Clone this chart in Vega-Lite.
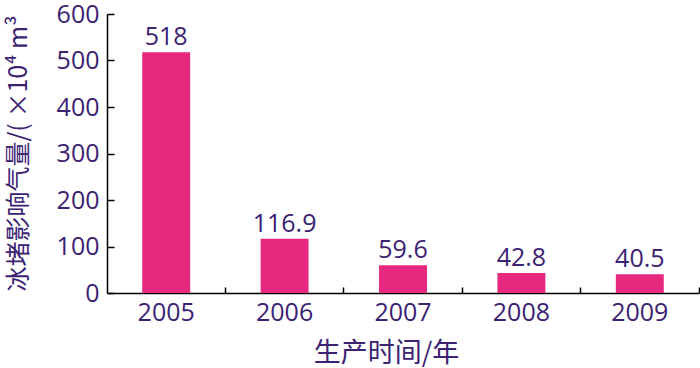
{
  "$schema": "https://vega.github.io/schema/vega-lite/v6.json",
  "width": 592,
  "height": 279,
  "autosize": "none",
  "padding": {"left": 107, "top": 14, "right": 1, "bottom": 75},
  "background": "white",
  "config": {
    "view": {"stroke": null},
    "font": "Open Sans, Noto Sans CJK SC",
    "axis": {
      "domainColor": "#000000",
      "domainWidth": 1.5,
      "tickColor": "#000000",
      "tickWidth": 1.5,
      "labelColor": "#3b2272",
      "titleColor": "#3b2272",
      "labelFont": "Open Sans",
      "labelFontSize": 25,
      "grid": false
    }
  },
  "data": {
    "values": [
      {"year": "2005", "value": 518, "label": "518"},
      {"year": "2006", "value": 116.9, "label": "116.9"},
      {"year": "2007", "value": 59.6, "label": "59.6"},
      {"year": "2008", "value": 42.8, "label": "42.8"},
      {"year": "2009", "value": 40.5, "label": "40.5"}
    ]
  },
  "encoding": {
    "x": {
      "field": "year",
      "type": "nominal",
      "sort": null,
      "scale": {"paddingInner": 0, "paddingOuter": 0},
      "axis": {
        "title": "生产时间/年",
        "titleFont": "Noto Sans CJK SC",
        "titleFontSize": 27,
        "titleFontWeight": "normal",
        "titleX": 279,
        "titleY": 68,
        "titleAnchor": null,
        "titleAlign": "center",
        "titleBaseline": "alphabetic",
        "labelAngle": 0,
        "tickSize": -6,
        "labelPadding": 13,
        "bandPosition": 1
      }
    },
    "y": {
      "field": "value",
      "type": "quantitative",
      "scale": {"domain": [0, 600], "nice": false},
      "axis": {
        "title": "冰堵影响气量/( ×10⁴ m³",
        "titleFont": "Noto Sans CJK SC, Open Sans",
        "titleFontSize": 25,
        "titleFontWeight": "normal",
        "titleX": -89,
        "titleY": 139,
        "titleAnchor": null,
        "titleAlign": "center",
        "titleAngle": -90,
        "titleBaseline": "middle",
        "values": [0, 100, 200, 300, 400, 500, 600],
        "tickSize": -7,
        "labelPadding": 15,
        "labelBaseline": "middle"
      }
    }
  },
  "layer": [
    {
      "mark": {"type": "bar", "color": "#e6287f", "width": {"band": 0.405}}
    },
    {
      "mark": {
        "type": "text",
        "baseline": "alphabetic",
        "dy": -7,
        "font": "Open Sans",
        "fontSize": 25,
        "color": "#3b2272"
      },
      "encoding": {"text": {"field": "label"}}
    }
  ]
}
